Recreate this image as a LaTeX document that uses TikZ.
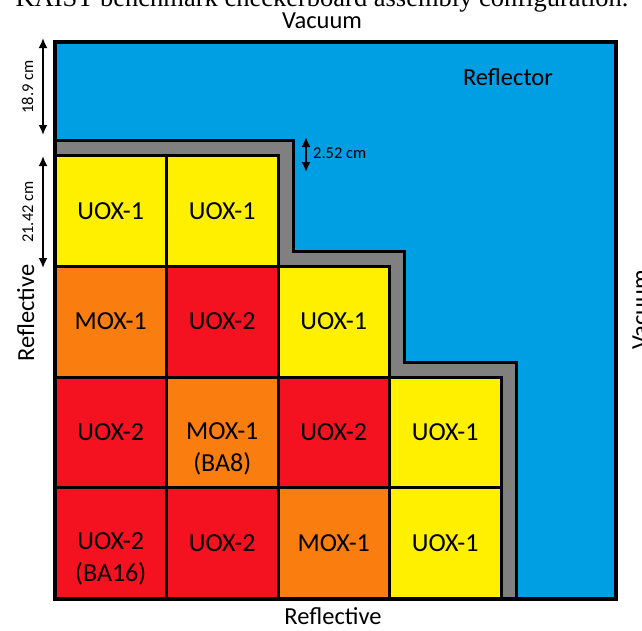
\documentclass[tikz,border=0pt]{standalone}
\usepackage{fontspec}
\setsansfont{Carlito}
\newfontfamily\captionserif{Liberation Serif}
\usetikzlibrary{arrows.meta}

\definecolor{refblue}{RGB}{0,158,226}
\definecolor{uoxone}{RGB}{255,240,0}
\definecolor{moxone}{RGB}{250,125,15}
\definecolor{uoxtwo}{RGB}{245,18,32}
\definecolor{gapgray}{RGB}{128,128,128}

\begin{document}
\begin{tikzpicture}[
    x=1pt, y=-1pt,
    cell/.style={draw, line width=3pt, minimum width=111.5pt, minimum height=110.75pt, inner sep=0pt},
    celltext/.style={font=\sffamily\fontsize{26}{32}\selectfont, align=center, inner sep=0pt},
    bc/.style={font=\sffamily\fontsize{24.5}{28}\selectfont, inner sep=0pt},
    dimlbl/.style={font=\sffamily\fontsize{16.5}{20}\selectfont, inner sep=0pt},
    dimarr/.style={{Latex[length=10pt,width=9pt]}-{Latex[length=10pt,width=9pt]}, line width=1.8pt},
]
\useasboundingbox (0,0) rectangle (642,630);

% caption (cut off at the top)
\node[font=\captionserif\fontsize{26.5}{30}\selectfont, anchor=base, inner sep=0pt] (cap) at (322,6) {KAIST benchmark checkerboard assembly configuration.};

% reflector and gap
\fill[refblue] (55,41.5) rectangle (615.5,598.5);
\draw[fill=gapgray, line width=3pt] (55,140.5) -| (293,251.25) -| (404.5,362) -| (516.5,598.5) -- (55,598.5) -- cycle;

% assemblies
\foreach \r/\c/\fc/\txt/\dy in {
    1/1/uoxone/UOX-1/0, 1/2/uoxone/UOX-1/0,
    2/1/moxone/MOX-1/0, 2/2/uoxtwo/UOX-2/0, 2/3/uoxone/UOX-1/0,
    3/1/uoxtwo/UOX-2/0, 3/2/moxone/MOX-1\\(BA8)/-16, 3/3/uoxtwo/UOX-2/0, 3/4/uoxone/UOX-1/0,
    4/1/uoxtwo/UOX-2\\(BA16)/-16, 4/2/uoxtwo/UOX-2/0, 4/3/moxone/MOX-1/0, 4/4/uoxone/UOX-1/0}
  \node[cell, fill=\fc, label={[celltext, yshift=\dy pt]center:\txt}] (a\r\c) at ({55+(\c-0.5)*111.5}, {155.5+(\r-0.5)*110.75}) {};

\draw[line width=4pt] (55,41.5) rectangle (615.5,598.5);

% boundary conditions
\node[bc, anchor=base] (bctop) at (322,28) {Vacuum};
\node[bc, anchor=base] (bcbot) at (333,624) {Reflective};
\node[bc, anchor=base, rotate=90] (bcleft) at (34,313) {Reflective};
\node[bc, anchor=base, rotate=90] (bcright) at (648,310) {Vacuum};
\node[bc, anchor=base] (refl) at (508,85) {Reflector};

% dimensions
\coordinate (d1a) at (43,38);
\coordinate (d1b) at (43,135);
\coordinate (d2a) at (43,156);
\coordinate (d2b) at (43,268);
\coordinate (d3a) at (306,137);
\coordinate (d3b) at (306,172);
\draw[dimarr] (d1a) -- (d1b);
\draw[dimarr] (d2a) -- (d2b);
\draw[dimarr] (d3a) -- (d3b);
\node[dimlbl, anchor=base, rotate=90] (l189) at (33,87) {18.9 cm};
\node[dimlbl, anchor=base, rotate=90] (l2142) at (33,212) {21.42 cm};
\node[dimlbl, anchor=base west] (l252) at (313,158.5) {2.52 cm};
\end{tikzpicture}
\end{document}
